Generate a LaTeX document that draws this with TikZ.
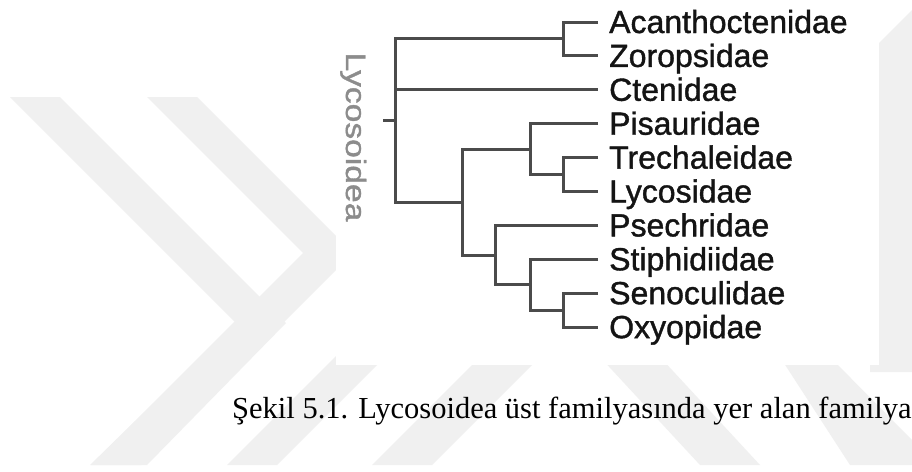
\documentclass[tikz,border=0pt]{standalone}
\usepackage{fontspec}
\setmainfont{Liberation Serif}
\newfontfamily\labfont[FakeBold=1.2]{Liberation Sans}
\definecolor{wmgray}{RGB}{240,240,240}
\definecolor{linegray}{RGB}{75,75,75}
\definecolor{labgray}{RGB}{140,140,140}
\definecolor{txtblack}{RGB}{20,20,20}
\begin{document}
\begin{tikzpicture}[x=1pt,y=-1pt,
  wm/.style={fill=wmgray,draw=none},
  br/.style={draw=linegray,line width=3pt},
  leaf/.style={font=\labfont\fontsize{32}{32}\selectfont,text=txtblack,anchor=base west,inner sep=0pt},
  caption/.style={font=\fontsize{30.5}{30.5}\selectfont,text=black,anchor=base west,inner sep=0pt}]
\useasboundingbox (0,0) rectangle (912,471);
\fill[white] (0,0) rectangle (912,471);
% watermark
\fill[wm] (10,97) -- (60,97) -- (286,323) -- (147,465) -- (90,465) -- (236,323) -- cycle;
\fill[wm] (147,97) -- (197,97) -- (353,253) -- (141,465) -- (91,465) -- (303,253) -- cycle;
\fill[wm] (227,465) -- (277,465) -- (390,352) -- (340,352) -- cycle;
\fill[wm] (372,465) -- (432,465) -- (540,357) -- (480,357) -- cycle;
\fill[wm] (700,465) -- (760,465) -- (660,357) -- (600,357) -- cycle;
\fill[wm] (850,465) -- (912,465) -- (912,440) -- (830,357) -- (780,357) -- cycle;
\fill[wm] (870,52) -- (912,10) -- (912,372) -- (870,372) -- cycle;
% picture box
\fill[white] (336,0) rectangle (879,365);
% leaf ends
\coordinate (t0) at (598,22.0);
\coordinate (t1) at (598,55.9);
\coordinate (t2) at (598,89.8);
\coordinate (t3) at (598,123.7);
\coordinate (t4) at (598,157.6);
\coordinate (t5) at (598,191.5);
\coordinate (t6) at (598,225.4);
\coordinate (t7) at (598,259.3);
\coordinate (t8) at (598,293.2);
\coordinate (t9) at (598,327.1);
% internal nodes
\coordinate (n1) at (563,38.95);
\coordinate (n2) at (563,174.55);
\coordinate (n3) at (530,149.1);
\coordinate (n4) at (563,310.15);
\coordinate (n5) at (530,284.7);
\coordinate (n6) at (495,255.05);
\coordinate (n7) at (462,202.1);
\coordinate (root) at (395,120.5);
\coordinate (stem) at (383,120.5);
% branches
\draw[br] (t0) -| (n1) |- (t1);
\draw[br] (t4) -| (n2) |- (t5);
\draw[br] (t3) -| (n3) |- (n2);
\draw[br] (t8) -| (n4) |- (t9);
\draw[br] (t7) -| (n5) |- (n4);
\draw[br] (t6) -| (n6) |- (n5);
\draw[br] (n3) -| (n7) |- (n6);
\draw[br] (n1) -| (root) |- (n7);
\draw[br] (root |- t2) -- (t2);
\draw[br] (stem) -- (root);
% labels
\node[leaf] (l0) at (609,33.0) {Acanthoctenidae};
\node[leaf] (l1) at (609,66.9) {Zoropsidae};
\node[leaf] (l2) at (609,100.8) {Ctenidae};
\node[leaf] (l3) at (609,134.7) {Pisauridae};
\node[leaf] (l4) at (609,168.6) {Trechaleidae};
\node[leaf] (l5) at (609,202.5) {Lycosidae};
\node[leaf] (l6) at (609,236.4) {Psechridae};
\node[leaf] (l7) at (609,270.3) {Stiphidiidae};
\node[leaf] (l8) at (609,304.2) {Senoculidae};
\node[leaf] (l9) at (609,338.1) {Oxyopidae};
\node[rotate=-90,anchor=base,inner sep=0pt,text=labgray,font=\labfont\fontsize{28}{28}\selectfont] (sup) at (346,137) {\scalebox{1.2}[1]{Lycosoidea}};
\node[caption] (cap) at (232,418) {Şekil 5.1. Lycosoidea üst familyasında yer alan familya};
\end{tikzpicture}
\end{document}
